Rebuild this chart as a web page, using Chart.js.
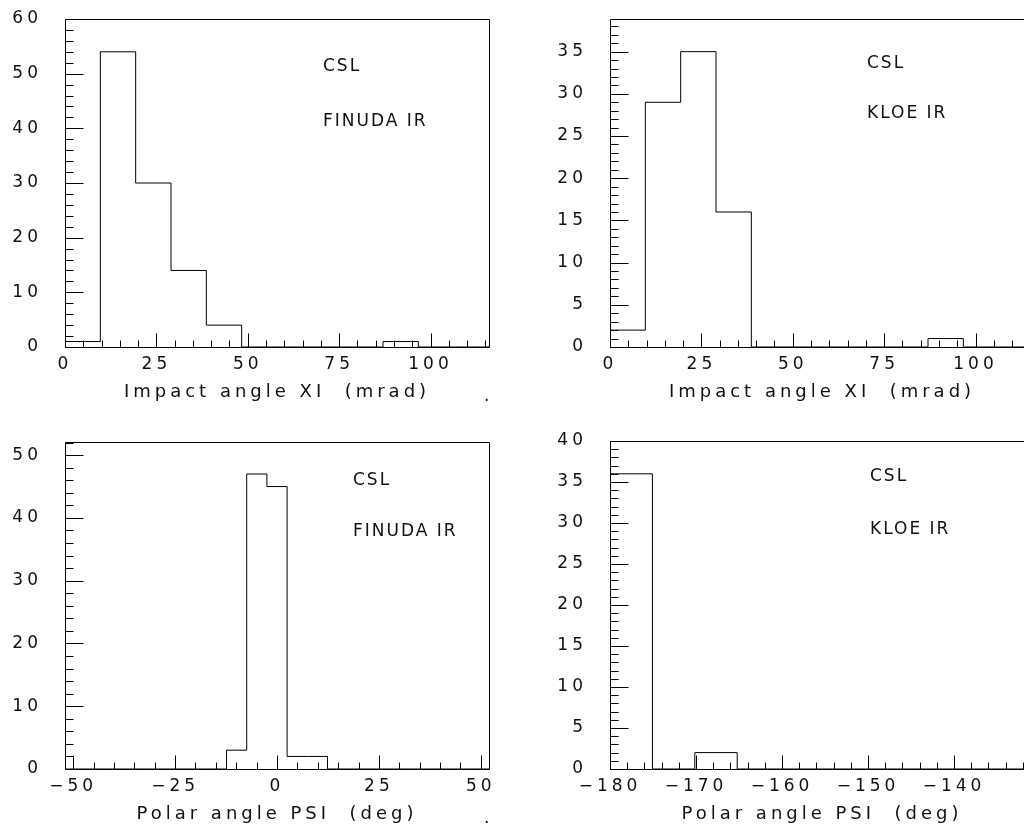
<!DOCTYPE html>
<html>
<head>
<meta charset="utf-8">
<script src="https://cdn.jsdelivr.net/npm/chart.js@4.4.1/dist/chart.umd.min.js"></script>
<style>
    html, body { margin: 0; padding: 0; background: #fff; width: 1024px; height: 825px; overflow: hidden; }
    canvas { position: absolute; }
</style>
</head>
<body>
<canvas id="xiFinuda" width="512" height="410" style="left:0;top:0"></canvas>
<canvas id="xiKloe" width="530" height="410" style="left:512px;top:0"></canvas>
<canvas id="psiFinuda" width="512" height="415" style="left:0;top:410px"></canvas>
<canvas id="psiKloe" width="530" height="415" style="left:512px;top:410px"></canvas>
<script>
// histogram ranges (low edge, high edge) and bin contents
const xiRange = [0, 116];
const psiFinudaRange = [-52, 52];
const psiKloeRange = [-180, -130.7];

const xiFinudaCounts = [1, 54, 30, 14, 4, 0, 0, 0, 0, 1, 0, 0];
const xiKloeCounts = [2, 29, 35, 16, 0, 0, 0, 0, 0, 1, 0, 0];
const psiFinudaCounts = [0, 0, 0, 0, 0, 0, 0, 0, 3, 47, 45, 2, 2, 0, 0, 0, 0, 0, 0, 0, 0];
const psiKloeCounts = [36, 0, 2, 0, 0, 0, 0, 0, 0, 0];

// y axis tops
const yTops = [60, 38.87, 52.1, 40];

const FONT = "'DejaVu Sans', sans-serif";
const INK = '#111';

// bin edges -> points for a stepped outline
function histPoints(range, counts) {
    const w = (range[1] - range[0]) / counts.length;
    const pts = counts.map((c, i) => ({ x: range[0] + i * w, y: c }));
    pts.push({ x: range[1], y: counts[counts.length - 1] });
    return pts;
}

function fmt(major) {
    return function(value) {
        const r = value / major;
        if (Math.abs(r - Math.round(r)) > 1e-6) return '';
        const v = Math.round(value);
        return v < 0 ? '\u2212' + (-v) : String(v);
    };
}

function isMultiple(v, step) {
    const r = v / step;
    return Math.abs(r - Math.round(r)) < 1e-6;
}

// frame, inward ticks and text notes, drawn the PAW way
const pawFrame = {
    id: 'pawFrame',
    beforeDraw(chart) {
        chart.ctx.letterSpacing = '4px';
    },
    afterDraw(chart, args, o) {
        const { ctx, chartArea: a, scales: { x, y } } = chart;
        const L = Math.round(a.left) + 0.5, R = Math.round(a.right) + 0.5;
        const T = Math.round(a.top) + 0.5, B = Math.round(a.bottom) + 0.5;
        ctx.save();
        ctx.strokeStyle = '#000';
        ctx.lineWidth = 1;
        ctx.beginPath();
        ctx.rect(L, T, R - L, B - T);

        let i0 = Math.ceil(x.min / o.xMinor - 1e-6);
        for (let i = i0; i * o.xMinor <= x.max + 1e-6; i++) {
            const v = i * o.xMinor;
            const px = Math.round(x.getPixelForValue(v)) + 0.5;
            const len = isMultiple(v, o.xMajor) ? 14 : 7;
            ctx.moveTo(px, B);
            ctx.lineTo(px, B - len);
        }
        i0 = Math.ceil(y.min / o.yMinor - 1e-6);
        for (let i = i0; i * o.yMinor <= y.max + 1e-6; i++) {
            const v = i * o.yMinor;
            const py = Math.round(y.getPixelForValue(v)) + 0.5;
            const len = isMultiple(v, o.yMajor) ? 18 : 8;
            ctx.moveTo(L, py);
            ctx.lineTo(L + len, py);
        }
        ctx.stroke();

        ctx.fillStyle = INK;
        ctx.font = '17px ' + FONT;
        ctx.letterSpacing = '2px';
        ctx.textBaseline = 'middle';
        ctx.textAlign = 'left';
        o.notes.forEach(n => ctx.fillText(n.text, a.left + n.dx, a.top + n.dy));
        ctx.fillText('.', a.left + o.dot[0], a.bottom + o.dot[1]);
        ctx.restore();
    }
};

function makeHist(id, range, counts, p) {
    new Chart(document.getElementById(id), {
        type: 'line',
        data: {
            datasets: [{
                data: histPoints(range, counts),
                stepped: true,
                borderColor: '#000',
                borderWidth: 1,
                pointRadius: 0,
                fill: false
            }]
        },
        plugins: [pawFrame],
        options: {
            responsive: false,
            animation: false,
            layout: { padding: { left: 0, top: p.padTop, right: p.padRight, bottom: 0 } },
            plugins: {
                legend: { display: false },
                tooltip: { enabled: false },
                pawFrame: { xMajor: p.xMajor, xMinor: p.xMinor, yMajor: p.yMajor, yMinor: p.yMinor, notes: p.notes, dot: [419, 50] }
            },
            scales: {
                x: {
                    type: 'linear',
                    min: range[0],
                    max: range[1],
                    grid: { display: false, drawTicks: false },
                    border: { display: false },
                    ticks: {
                        stepSize: p.xMajor,
                        includeBounds: false,
                        autoSkip: false,
                        maxRotation: 0,
                        padding: 7,
                        color: INK,
                        font: { family: FONT, size: 17 },
                        callback: fmt(p.xMajor)
                    },
                    title: {
                        display: true,
                        text: p.title,
                        color: INK,
                        font: { family: FONT, size: 18 },
                        padding: { top: 0, bottom: p.titlePad }
                    },
                    afterFit: s => { s.height = p.xH; }
                },
                y: {
                    type: 'linear',
                    min: 0,
                    max: p.yTop,
                    // hidden tick marks only to set the label gap
                    grid: { display: false, drawTicks: true, tickLength: 23 },
                    border: { display: false },
                    ticks: {
                        stepSize: p.yMajor,
                        includeBounds: false,
                        autoSkip: false,
                        padding: 0,
                        color: INK,
                        font: { family: FONT, size: 17 },
                        callback: fmt(p.yMajor)
                    },
                    afterFit: s => { s.width = p.yW; }
                }
            }
        }
    });
}

makeHist('xiFinuda', xiRange, xiFinudaCounts, {
    padTop: 19, padRight: 23, yW: 65, xH: 63, titlePad: 7, yTop: yTops[0],
    xMajor: 25, xMinor: 5, yMajor: 10, yMinor: 2,
    title: 'Impact angle XI  (mrad)',
    notes: [{ text: 'CSL', dx: 258, dy: 48 }, { text: 'FINUDA IR', dx: 258, dy: 103 }]
});
makeHist('xiKloe', xiRange, xiKloeCounts, {
    padTop: 19, padRight: 8, yW: 98, xH: 63, titlePad: 7, yTop: yTops[1],
    xMajor: 25, xMinor: 5, yMajor: 5, yMinor: 1,
    title: 'Impact angle XI  (mrad)',
    notes: [{ text: 'CSL', dx: 257, dy: 45 }, { text: 'KLOE IR', dx: 257, dy: 95 }]
});
makeHist('psiFinuda', psiFinudaRange, psiFinudaCounts, {
    padTop: 32, padRight: 23, yW: 65, xH: 56, titlePad: 0, yTop: yTops[2],
    xMajor: 25, xMinor: 5, yMajor: 10, yMinor: 2,
    title: 'Polar angle PSI  (deg)',
    notes: [{ text: 'CSL', dx: 288, dy: 39 }, { text: 'FINUDA IR', dx: 288, dy: 90 }]
});
makeHist('psiKloe', psiKloeRange, psiKloeCounts, {
    padTop: 31, padRight: 8, yW: 98, xH: 56, titlePad: 0, yTop: yTops[3],
    xMajor: 10, xMinor: 2, yMajor: 5, yMinor: 1,
    title: 'Polar angle PSI  (deg)',
    notes: [{ text: 'CSL', dx: 260, dy: 36 }, { text: 'KLOE IR', dx: 260, dy: 89 }]
});
</script>
</body>
</html>
